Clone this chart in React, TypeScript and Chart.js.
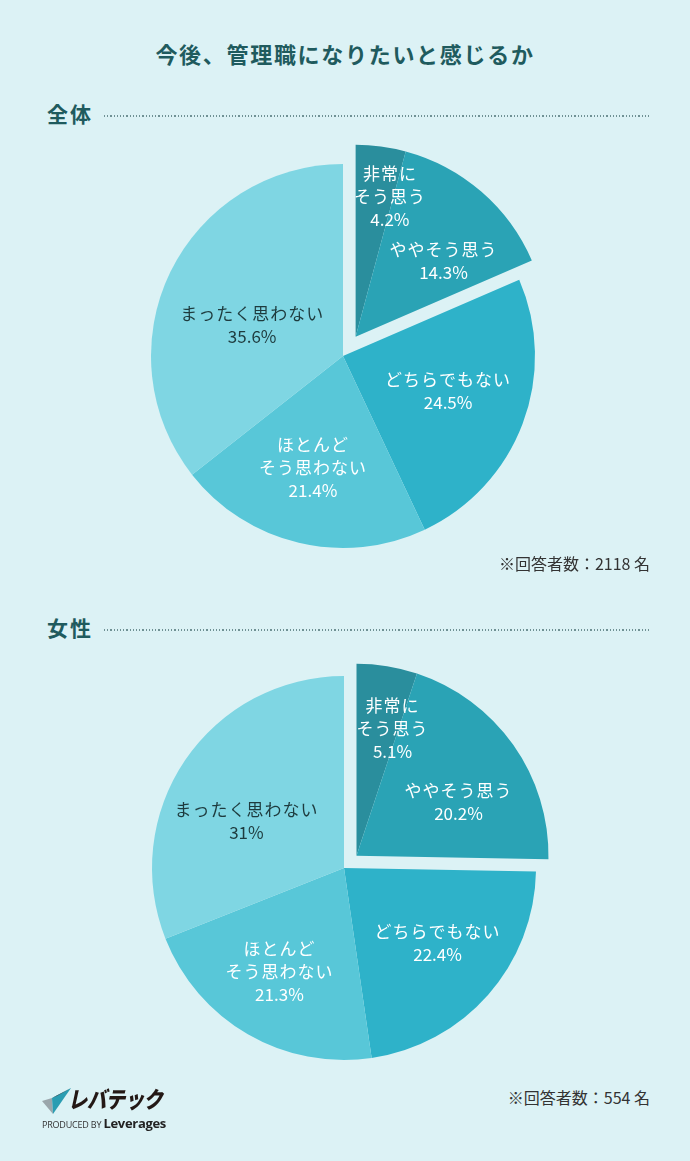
import React, { useEffect, useRef } from "react";
import { Chart, registerables } from "chart.js";

Chart.register(...registerables);

// ---- data ----
const TITLE = "今後、管理職になりたいと感じるか";
const CATEGORIES = ["非常に\nそう思う", "ややそう思う", "どちらでもない", "ほとんど\nそう思わない", "まったく思わない"];
const SECTION_TOTAL = "全体";
const SECTION_FEMALE = "女性";
const TOTAL_VALUES = [4.2, 14.3, 24.5, 21.4, 35.6];
const FEMALE_VALUES = [5.1, 20.2, 22.4, 21.3, 31];
const TOTAL_NOTE = "※回答者数：2118 名";
const FEMALE_NOTE = "※回答者数：554 名";
const EXPLODED = [0, 1];

// ---- style ----
const BG = "#dcf2f5";
const HEAD = "#1f5b5e";
const SLICE_COLORS = ["#2a8e9d", "#2aa3b5", "#2eb2c9", "#58c7d8", "#7fd6e3"];
const LABEL_COLORS = ["#ffffff", "#ffffff", "#ffffff", "#ffffff", "#1e3b3e"];
const FONT = '"Noto Sans CJK JP", "Noto Sans", sans-serif';

// label placement per slice: [angle shift in degrees, radius ratio]
const TOTAL_LABEL_POS = [[6.2, 0.75], [8.3, 0.605], [-2.3, 0.577], [1.7, 0.604], [-7.1, 0.5]];
const FEMALE_LABEL_POS = [[6.6, 0.69], [7.6, 0.6], [-2.5, 0.626], [1.9, 0.635], [-8.3, 0.565]];

const SIZE = 432;
const PAD = 24;

function PieChart(props: { values: number[]; labelPos: number[][]; explode: number; left: number; top: number }) {
  const ref = useRef<HTMLCanvasElement | null>(null);
  useEffect(() => {
    const canvas = ref.current;
    if (!canvas) return;
    const groupOffset = (chart: any) => {
      const meta = chart.getDatasetMeta(0);
      const a = meta.data[EXPLODED[0]].getProps(["startAngle"], true).startAngle;
      const b = meta.data[EXPLODED[EXPLODED.length - 1]].getProps(["endAngle"], true).endAngle;
      const mid = (a + b) / 2;
      return { dx: Math.cos(mid) * props.explode, dy: Math.sin(mid) * props.explode };
    };
    const drawPlugin = {
      id: "groupExplode",
      beforeDatasetDraw(chart: any) {
        const ctx = chart.ctx;
        const meta = chart.getDatasetMeta(0);
        const off = groupOffset(chart);
        meta.data.forEach((arc: any, i: number) => {
          ctx.save();
          if (EXPLODED.includes(i)) ctx.translate(off.dx, off.dy);
          arc.draw(ctx, chart.chartArea);
          ctx.restore();
        });
        return false;
      },
      afterDatasetsDraw(chart: any) {
        const ctx = chart.ctx;
        const meta = chart.getDatasetMeta(0);
        const off = groupOffset(chart);
        const vals = chart.data.datasets[0].data as number[];
        meta.data.forEach((arc: any, i: number) => {
          const p = arc.getProps(["startAngle", "endAngle", "x", "y", "outerRadius"], true);
          const [dA, rr] = props.labelPos[i];
          const ang = (p.startAngle + p.endAngle) / 2 + (dA * Math.PI) / 180;
          let cx = p.x + Math.cos(ang) * rr * p.outerRadius;
          let cy = p.y + Math.sin(ang) * rr * p.outerRadius;
          if (EXPLODED.includes(i)) {
            cx += off.dx;
            cy += off.dy;
          }
          const textLines = String(chart.data.labels[i]).split("\n");
          const lines = textLines.concat([String(vals[i]) + "%"]);
          const lh = 23;
          ctx.save();
          ctx.font = `17px ${FONT}`;
          ctx.fillStyle = LABEL_COLORS[i];
          ctx.textAlign = "center";
          ctx.textBaseline = "middle";
          const y0 = cy - ((lines.length - 1) * lh) / 2;
          lines.forEach((ln, k) => {
            (ctx as any).letterSpacing = k < textLines.length ? "1px" : "0px";
            ctx.fillText(ln, cx, y0 + k * lh);
          });
          ctx.restore();
        });
      },
    };
    const chart = new Chart(canvas, {
      type: "pie",
      data: {
        labels: CATEGORIES,
        datasets: [
          {
            data: props.values,
            backgroundColor: SLICE_COLORS,
            borderWidth: 0,
            hoverOffset: 0,
          },
        ],
      },
      options: {
        responsive: false,
        animation: false,
        layout: { padding: PAD },
        plugins: { legend: { display: false }, tooltip: { enabled: false } },
        events: [],
      },
      plugins: [drawPlugin],
    });
    return () => chart.destroy();
  }, []);
  return (
    <canvas
      ref={ref}
      width={SIZE}
      height={SIZE}
      style={{ position: "absolute", left: props.left, top: props.top, width: SIZE, height: SIZE }}
    />
  );
}

function Section(props: { title: string; top: number }) {
  return (
    <>
      <div
        style={{
          position: "absolute",
          left: 47,
          top: props.top - 15,
          height: 30,
          lineHeight: "30px",
          fontSize: 21,
          fontWeight: 700,
          letterSpacing: 2,
          color: HEAD,
        }}
      >
        {props.title}
      </div>
      <div
        style={{
          position: "absolute",
          left: 104,
          width: 547,
          top: props.top + 2,
          height: 1.5,
          backgroundImage: "repeating-linear-gradient(to right, #6f9194 0px, #6f9194 1.3px, transparent 1.3px, transparent 3.2px)",
        }}
      />
    </>
  );
}

function Note(props: { text: string; top: number }) {
  return (
    <div
      style={{
        position: "absolute",
        right: 40,
        top: props.top - 12,
        lineHeight: "24px",
        fontSize: 16,
        color: "#333",
        whiteSpace: "nowrap",
      }}
    >
      {props.text}
    </div>
  );
}

export default function App() {
  return (
    <div
      style={{
        position: "absolute",
        left: 0,
        top: 0,
        width: 690,
        height: 1161,
        background: BG,
        fontFamily: FONT,
        overflow: "hidden",
      }}
    >
      <div
        style={{
          position: "absolute",
          left: 0,
          width: 690,
          top: 38,
          lineHeight: "30px",
          textAlign: "center",
          fontSize: 22,
          fontWeight: 700,
          letterSpacing: 1.7,
          color: HEAD,
        }}
      >
        {TITLE}
      </div>
      <Section title={SECTION_TOTAL} top={113} />
      <PieChart values={TOTAL_VALUES} labelPos={TOTAL_LABEL_POS} explode={23} left={343 - SIZE / 2} top={356 - SIZE / 2} />
      <Note text={TOTAL_NOTE} top={563} />
      <Section title={SECTION_FEMALE} top={627} />
      <PieChart values={FEMALE_VALUES} labelPos={FEMALE_LABEL_POS} explode={17.5} left={344 - SIZE / 2} top={868 - SIZE / 2} />
      <Note text={FEMALE_NOTE} top={1097} />
      {/* logo */}
      <svg style={{ position: "absolute", left: 41, top: 1087 }} width="30" height="30" viewBox="0 0 30 30">
        <polygon points="1,14 11,11 12,27" fill="#9aa6ab" />
        <polygon points="11,11 30,1 12,27" fill="#2a9db2" />
        <polygon points="11,11 30,1 16,9" fill="#3f4c54" />
      </svg>
      <div
        style={{
          position: "absolute",
          left: 68,
          top: 1084,
          fontSize: 23,
          lineHeight: "28px",
          fontWeight: 900,
          fontStyle: "italic",
          color: "#231815",
          transform: "scaleX(0.84)",
          transformOrigin: "left center",
          whiteSpace: "nowrap",
          letterSpacing: -0.5,
        }}
      >
        レバテック
      </div>
      <div
        style={{
          position: "absolute",
          left: 42,
          top: 1113,
          lineHeight: "16px",
          whiteSpace: "nowrap",
          color: "#333",
        }}
      >
        <span style={{ fontSize: 9, fontFamily: '"Open Sans", sans-serif', letterSpacing: -0.2 }}>PRODUCED BY </span>
        <span style={{ fontSize: 13, fontWeight: 700, color: "#222", fontFamily: '"Open Sans", sans-serif', letterSpacing: -0.3 }}>Leverages</span>
      </div>
    </div>
  );
}
